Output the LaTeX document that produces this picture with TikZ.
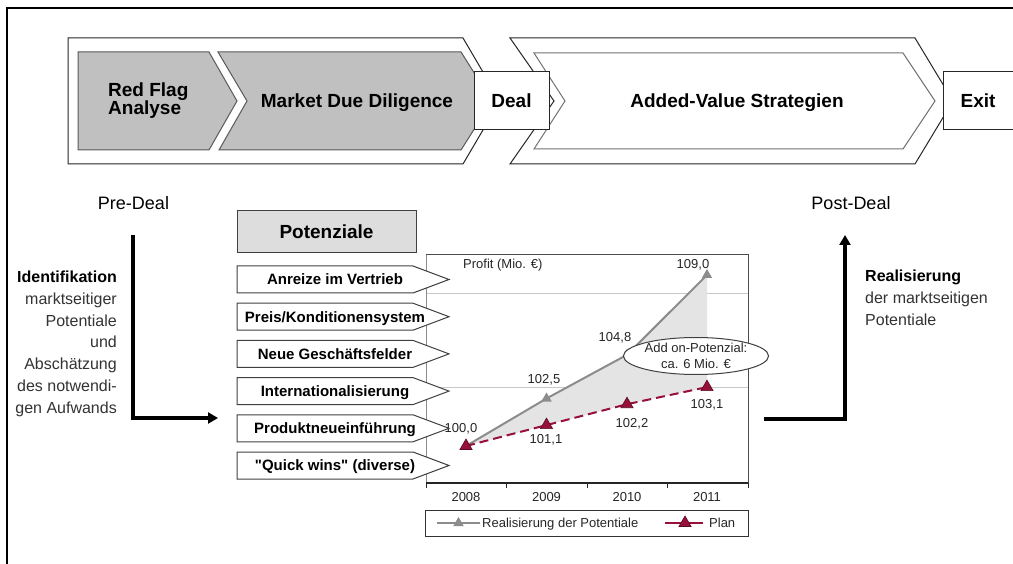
\documentclass[tikz,border=0pt]{standalone}
\usepackage{fontspec}
\setmainfont{Liberation Sans}[Ligatures=TeXOff]
\usetikzlibrary{arrows.meta,shapes.geometric}
\definecolor{chevgray}{RGB}{192,192,192}
\definecolor{potgray}{RGB}{221,221,221}
\definecolor{plancol}{RGB}{150,16,58}
\definecolor{realcol}{RGB}{140,140,140}
\definecolor{shadecol}{RGB}{228,228,228}
\definecolor{gridcol}{RGB}{200,200,200}
\newcommand\potitem[3]{%
  \draw[potarrow] (237,#1) -- (413,#1) -- (449,#1+13.5) -- (413,#1+27) -- (237,#1+27) -- cycle;
  \node[pottext, anchor=base] (#2) at (335,#1+18.9) {#3};}
\begin{document}
\begin{tikzpicture}[x=1pt,y=-1pt,line join=miter,
  procout/.style={draw=black!85, line width=1pt, fill=white},
  procgray/.style={draw=black!65, line width=1pt, fill=chevgray},
  procwhite/.style={draw=black!55, line width=1pt, fill=white},
  proctext/.style={font=\fontsize{19}{18.5}\selectfont\bfseries, inner sep=0},
  smallbox/.style={draw=black!85, line width=1pt, fill=white},
  bigarrow/.style={line width=3.3pt, -{Triangle[length=10pt,width=11pt]}},
  side/.style={font=\fontsize{16}{21.8}\selectfont, inner sep=0, text=black!80},
  phase/.style={font=\fontsize{18}{22}\selectfont, inner sep=0},
  potarrow/.style={draw=black!75, line width=1pt, fill=white},
  pottext/.style={font=\fontsize{15}{18}\selectfont\bfseries, inner sep=0},
  val/.style={font=\fontsize{13}{15}\selectfont, inner sep=0, text=black!85},
  realmark/.style={regular polygon, regular polygon sides=3, fill=realcol, inner sep=0, minimum size=12pt},
  planmark/.style={regular polygon, regular polygon sides=3, fill=plancol, draw=plancol!60!black, line width=0.6pt, inner sep=0, minimum size=14pt},
  realline/.style={draw=realcol, line width=2pt},
  planline/.style={draw=plancol, line width=2pt, dash pattern=on 9pt off 5pt}]
\useasboundingbox (0,0) rectangle (1013,564);
\fill[white] (0,0) rectangle (1013,564);
\draw[line width=2.5pt] (7,570) -- (7,8) -- (1020,8);

% ---------- process row ----------
\draw[procout] (68,38) -- (463,38) -- (500,101) -- (463,164) -- (68,164) -- cycle;
\draw[procgray] (78,52) -- (209,52) -- (237,101) -- (209,150) -- (78,150) -- cycle;
\draw[procgray] (218,52) -- (461,52) -- (492,101) -- (461,150) -- (219,150) -- (247,101) -- cycle;
\draw[procout] (510,38) -- (915,38) -- (953,101) -- (915,164) -- (510,164) -- (554,101) -- cycle;
\draw[procwhite] (534,53) -- (903,53) -- (935,101) -- (903,149) -- (534,149) -- (565,101) -- cycle;
\node[smallbox, minimum width=75pt, minimum height=58pt, inner sep=0, font=\fontsize{19}{22}\selectfont\bfseries] (deal) at (511.5,101) {Deal};
\draw[smallbox] (943,72) rectangle (1030,130);
\node[proctext, anchor=base] (exit) at (978,108) {Exit};
\node[proctext, anchor=base west, align=left] (redflag) at (108,115) {Red Flag\\Analyse};
\node[proctext, anchor=base] (mdd) at (357,108) {Market Due Diligence};
\node[proctext, anchor=base] (avs) at (737,108) {Added-Value Strategien};

% ---------- phases ----------
\node[phase, anchor=base] (pre) at (133.5,209.5) {Pre-Deal};
\node[phase, anchor=base] (post) at (851,209.5) {Post-Deal};
\node[side, anchor=base east, align=right] (ident) at (117,413.3) {\textbf{\color{black}Identifikation}\\marktseitiger\\Potentiale\\und\\Abschätzung\\des notwendi-\\gen Aufwands};
\node[side, anchor=base west, align=left] (reali) at (865,325.5) {\textbf{\color{black}Realisierung}\\der marktseitigen\\Potentiale};
\coordinate (la1) at (133,235);
\coordinate (la2) at (218,418);
\draw[bigarrow] (la1) |- (la2);
\coordinate (ra1) at (764,419);
\coordinate (ra2) at (845,235);
\draw[bigarrow] (ra1) -| (ra2);

% ---------- Potenziale ----------
\draw[draw=black!75, line width=1pt, fill=potgray] (237,211) rectangle (416,253);
\node[font=\fontsize{19}{22}\selectfont\bfseries, inner sep=0, anchor=base] (pot) at (326.5,238.3) {Potenziale};

% ---------- chart ----------
\draw[gridcol, line width=0.8pt] (426,293) -- (748,293);
\draw[gridcol, line width=0.8pt] (426,387) -- (748,387);
\draw[black!45, line width=1pt] (426,483) -- (426,255);
\draw[black!70, line width=1pt] (426,255) -- (748,255) -- (748,483);
\draw[black!85, line width=1.2pt] (426,483) -- (748,483);
\foreach \tx in {426,506.5,587,667.5,748} \draw[black!85, line width=1pt] (\tx,483) -- (\tx,488);

\coordinate (p08r) at (466,446);
\coordinate (p09r) at (546.5,398.5);
\coordinate (p10r) at (627,354.8);
\coordinate (p11r) at (707,275);
\coordinate (p09p) at (546.5,425.1);
\coordinate (p10p) at (627,404.2);
\coordinate (p11p) at (707,387.1);
\fill[shadecol] (p08r) -- (p09r) -- (p10r) -- (p11r) -- (p11p) -- (p10p) -- (p09p) -- cycle;
\draw[realline] (p08r) -- (p09r) -- (p10r) -- (p11r);
\draw[planline] (p08r) -- (p09p) -- (p10p) -- (p11p);
\node[realmark] (m09r) at (p09r) {};
\node[realmark] (m10r) at (p10r) {};
\node[realmark] (m11r) at (p11r) {};
\node[planmark] (m08p) at (p08r) {};
\node[planmark] (m09p) at (p09p) {};
\node[planmark] (m10p) at (p10p) {};
\node[planmark] (m11p) at (p11p) {};

\node[val, anchor=base west] (profit) at (463,268.7) {Profit (Mio. €)};
\node[val, anchor=base] (v109) at (693,268.7) {109,0};
\node[val, anchor=base] (v1048) at (615,341.7) {104,8};
\node[val, anchor=base] (v1025) at (544,383.7) {102,5};
\node[val, anchor=base] (v100) at (461,432.7) {100,0};
\node[val, anchor=base] (v1011) at (546,443.7) {101,1};
\node[val, anchor=base] (v1022) at (632,427.7) {102,2};
\node[val, anchor=base] (v1031) at (707,408.7) {103,1};

\node[ellipse, draw=black!75, fill=white, line width=1pt, minimum width=124pt, minimum height=37pt, inner sep=0, align=center, font=\fontsize{13}{16}\selectfont, text=black!85] (addon) at (696,356) {Add on-Potenzial:\\ca. 6 Mio. €};

\node[val, anchor=base] (y08) at (466,501.5) {2008};
\node[val, anchor=base] (y09) at (546.5,501.5) {2009};
\node[val, anchor=base] (y10) at (627,501.5) {2010};
\node[val, anchor=base] (y11) at (707,501.5) {2011};

% legend
\draw[black!80, line width=1pt] (425,510) rectangle (748,536);
\coordinate (lg1) at (437,523);
\coordinate (lg2) at (480,523);
\draw[realline] (lg1) -- (lg2);
\node[realmark] (lgm1) at (458.5,523) {};
\node[val, anchor=base west] (lgt1) at (482,527.6) {Realisierung der Potentiale};
\coordinate (lg3) at (665,523);
\coordinate (lg4) at (703,523);
\draw[planline, dash pattern=on 17pt off 4pt] (lg3) -- (lg4);
\node[planmark] (lgm2) at (685,523) {};
\node[val, anchor=base west] (lgt2) at (709,527.6) {Plan};

% potential arrows
\potitem{266}{pa}{Anreize im Vertrieb}
\potitem{303.2}{pb}{Preis/Konditionensystem}
\potitem{340.4}{pc}{Neue Geschäftsfelder}
\potitem{377.6}{pd}{Internationalisierung}
\potitem{414.8}{pe}{Produktneueinführung}
\potitem{452}{pf}{"Quick wins" (diverse)}
\end{tikzpicture}
\end{document}
